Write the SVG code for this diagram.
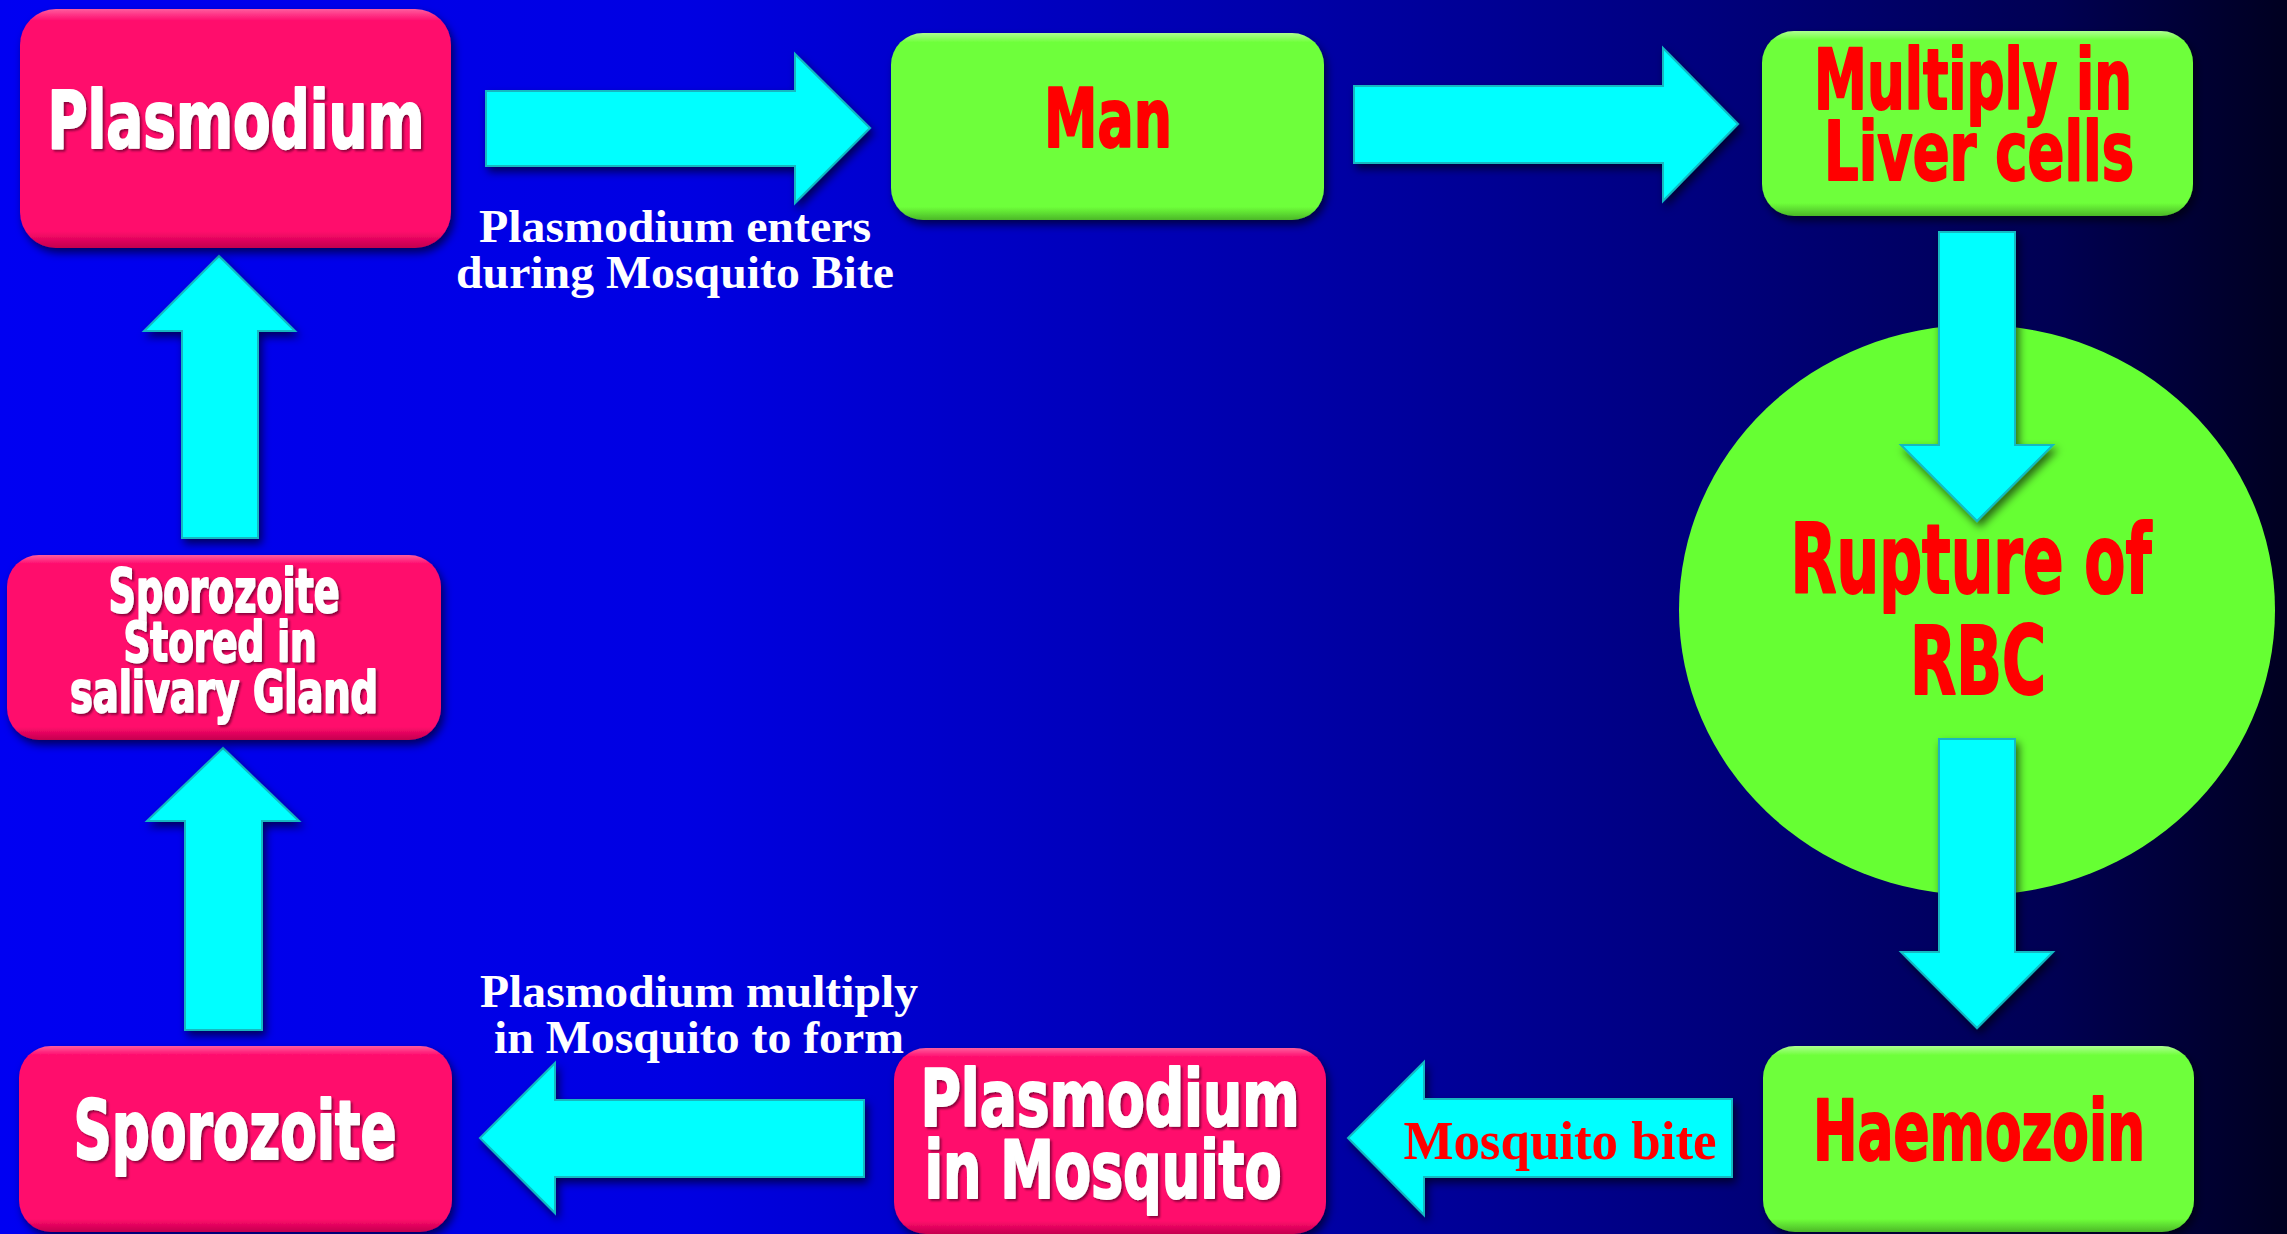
<svg xmlns="http://www.w3.org/2000/svg" width="2287" height="1234" viewBox="0 0 2287 1234">
<defs>
<linearGradient id="bg" x1="0" y1="0" x2="1" y2="0">
<stop offset="0" stop-color="#0000F2"/>
<stop offset="0.3" stop-color="#0000E2"/>
<stop offset="0.55" stop-color="#0000AC"/>
<stop offset="0.75" stop-color="#00007C"/>
<stop offset="0.9" stop-color="#000052"/>
<stop offset="1" stop-color="#000020"/>
</linearGradient>
<linearGradient id="pinkG" x1="0" y1="0" x2="0" y2="1">
<stop offset="0" stop-color="#FF5C9E"/>
<stop offset="0.05" stop-color="#FF0A6C"/>
<stop offset="0.93" stop-color="#FF0A6C"/>
<stop offset="1" stop-color="#C4004E"/>
</linearGradient>
<linearGradient id="greenG" x1="0" y1="0" x2="0" y2="1">
<stop offset="0" stop-color="#AEFF90"/>
<stop offset="0.05" stop-color="#6EFF3A"/>
<stop offset="0.93" stop-color="#6EFF3A"/>
<stop offset="1" stop-color="#4CB828"/>
</linearGradient>
<filter id="shadow" x="-10%" y="-10%" width="125%" height="130%">
<feDropShadow dx="3" dy="5" stdDeviation="4" flood-color="#000000" flood-opacity="0.6"/>
</filter>
<filter id="tshadow" x="-5%" y="-10%" width="115%" height="130%">
<feDropShadow dx="2" dy="2" stdDeviation="1" flood-color="#700030" flood-opacity="0.8"/>
</filter>
</defs>
<style>
.pink{fill:url(#pinkG);filter:url(#shadow)}
.green{fill:url(#greenG);filter:url(#shadow)}
.arrow{fill:#00FFFF;stroke:#12B8C0;stroke-width:2;stroke-linejoin:miter;filter:url(#shadow)}
.imp{font-family:"Liberation Sans Narrow","DejaVu Sans Condensed","Liberation Sans",sans-serif;font-weight:bold;text-anchor:middle;stroke-width:2;stroke-linejoin:round}
.w{fill:#FFFFFF;stroke:#FFFFFF;filter:url(#tshadow)}
.r{fill:#FF0000;stroke:#FF0000}
.lbl{font-family:"Liberation Serif","Times New Roman",serif;font-weight:bold;text-anchor:middle;fill:#FFFFFF}
.lblr{fill:#FF0000}
</style>
<rect x="0" y="0" width="2287" height="1234" fill="url(#bg)"/>

<g id="node-rupture">
<ellipse cx="1977" cy="610" rx="298" ry="285" fill="#66FF33"/>
</g>

<g id="connectors">
<polygon class="arrow" points="486,91 795,91 795,54 870,128 795,203 795,166 486,166"/>
<polygon class="arrow" points="1354,86 1663,86 1663,48 1738,124 1663,201 1663,163 1354,163"/>
<polygon class="arrow" points="1939,232 2015,232 2015,445 2053,445 1977,521 1901,445 1939,445"/>
<polygon class="arrow" points="1939,739 2015,739 2015,952 2053,952 1977,1028 1901,952 1939,952"/>
<polygon class="arrow" points="1732,1099 1424,1099 1424,1062 1348,1138 1424,1215 1424,1177 1732,1177"/>
<polygon class="arrow" points="864,1100 555,1100 555,1063 480,1138 555,1213 555,1177 864,1177"/>
<polygon class="arrow" points="185,1030 185,821 147,821 223,748 299,821 262,821 262,1030"/>
<polygon class="arrow" points="182,538 182,331 144,331 219,256 295,331 258,331 258,538"/>
<text class="lbl" x="675" y="242" font-size="46" textLength="392" lengthAdjust="spacingAndGlyphs">Plasmodium enters</text>
<text class="lbl" x="675" y="288" font-size="46" textLength="438" lengthAdjust="spacingAndGlyphs">during Mosquito Bite</text>
<text class="lbl" x="699" y="1007" font-size="46" textLength="438" lengthAdjust="spacingAndGlyphs">Plasmodium multiply</text>
<text class="lbl" x="699" y="1053" font-size="46" textLength="410" lengthAdjust="spacingAndGlyphs">in Mosquito to form</text>
<text class="lbl lblr" x="1560" y="1159" font-size="54" textLength="313" lengthAdjust="spacingAndGlyphs">Mosquito bite</text>
</g>

<g id="node-rupture-text">
<text class="imp r" x="1971" y="593" font-size="96" textLength="361" lengthAdjust="spacingAndGlyphs">Rupture of</text>
<text class="imp r" x="1978" y="694" font-size="94" textLength="136" lengthAdjust="spacingAndGlyphs">RBC</text>
</g>

<g id="node-plasmodium">
<rect class="pink" x="20" y="9" width="431" height="239" rx="36"/>
<text class="imp w" x="236" y="148" font-size="81" textLength="377" lengthAdjust="spacingAndGlyphs">Plasmodium</text>
</g>

<g id="node-man">
<rect class="green" x="891" y="33" width="433" height="187" rx="32"/>
<text class="imp r" x="1108" y="147" font-size="82" textLength="128" lengthAdjust="spacingAndGlyphs">Man</text>
</g>

<g id="node-liver">
<rect class="green" x="1762" y="31" width="431" height="185" rx="32"/>
<text class="imp r" x="1973" y="109" font-size="84" textLength="318" lengthAdjust="spacingAndGlyphs">Multiply in</text>
<text class="imp r" x="1979" y="180" font-size="82" textLength="310" lengthAdjust="spacingAndGlyphs">Liver cells</text>
</g>

<g id="node-haemozoin">
<rect class="green" x="1763" y="1046" width="431" height="186" rx="32"/>
<text class="imp r" x="1979" y="1160" font-size="84" textLength="332" lengthAdjust="spacingAndGlyphs">Haemozoin</text>
</g>

<g id="node-plasmodium-mosquito">
<rect class="pink" x="894" y="1048" width="432" height="186" rx="32"/>
<text class="imp w" x="1110" y="1126" font-size="78" textLength="379" lengthAdjust="spacingAndGlyphs">Plasmodium</text>
<text class="imp w" x="1103" y="1198" font-size="80" textLength="357" lengthAdjust="spacingAndGlyphs">in Mosquito</text>
</g>

<g id="node-sporozoite">
<rect class="pink" x="19" y="1046" width="433" height="186" rx="32"/>
<text class="imp w" x="235" y="1159" font-size="82" textLength="323" lengthAdjust="spacingAndGlyphs">Sporozoite</text>
</g>

<g id="node-stored">
<rect class="pink" x="7" y="555" width="434" height="185" rx="32"/>
<text class="imp w" x="224" y="612" font-size="60" textLength="231" lengthAdjust="spacingAndGlyphs">Sporozoite</text>
<text class="imp w" x="220" y="661" font-size="56" textLength="193" lengthAdjust="spacingAndGlyphs">Stored in</text>
<text class="imp w" x="224" y="712" font-size="57" textLength="308" lengthAdjust="spacingAndGlyphs">salivary Gland</text>
</g>
</svg>
